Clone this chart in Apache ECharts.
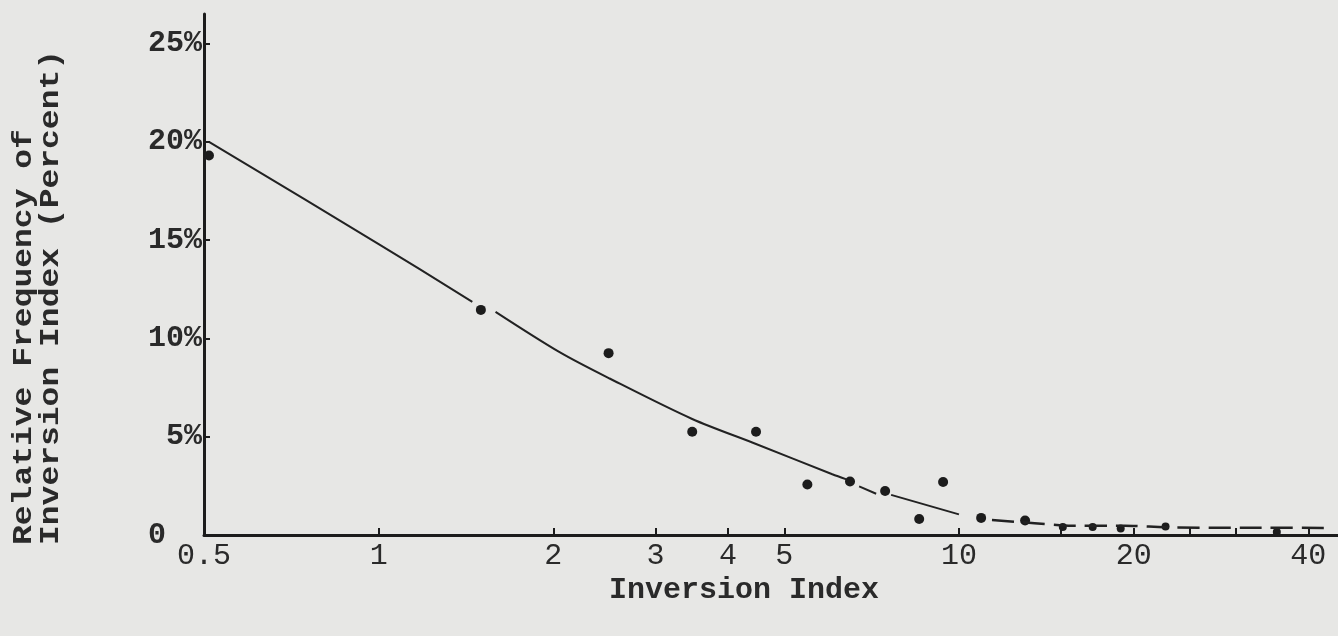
<!DOCTYPE html>
<html>
<head>
<meta charset="utf-8">
<script src="https://cdn.jsdelivr.net/npm/echarts@6/dist/echarts.min.js"></script>
<style>
  html, body { margin: 0; padding: 0; background: #e7e7e5; }
  #chart { width: 1338px; height: 636px; }
</style>
</head>
<body>
<div id="chart"></div>
<script>
// Observed relative frequency of each inversion index class (percent)
const indexValues = [0.51, 1.5, 2.49, 3.47, 4.47, 5.48, 6.49, 7.46, 8.54, 9.39, 10.92, 13.0, 15.1, 17.0, 19.0, 22.7, 35.3];
const frequency   = [19.3, 11.45, 9.25, 5.25, 5.25, 2.57, 2.72, 2.24, 0.81, 2.70, 0.87, 0.74, 0.41, 0.41, 0.33, 0.43, 0.15];

// Hand-fitted curve (null marks a break in the pen stroke)
const fitX = [0.51, 1.0, 1.45, 1.5, 1.59, 2.05, 2.5, 3.47, 4.47, 6.05, 6.4, 6.55, 6.73, 7.2, 7.4, 7.64, 10.0];
const fitY = [20.0, 14.8, 11.86, null, 11.35, 9.3, 7.96, 5.9, 4.63, 3.09, 2.83, null, 2.47, 2.1, null, 2.04, 1.05];

// Broken tail of the curve beyond index 10
const tailX = [11.4, 13.5, 15.6, 19.3, 23.4, 33.0, 43.0];
const tailY = [0.76, 0.60, 0.47, 0.47, 0.38, 0.37, 0.36];

// Axis ticks and labels
const xLabelValues = [0.5, 1, 2, 3, 4, 5, 10, 20, 40];
const xTickValues  = [1, 2, 3, 4, 5, 10, 15, 20, 25, 30, 35, 40];
const yTickValues  = [0, 5, 10, 15, 20, 25];

// Two-line vertical axis title
const yTitleLines = ['Relative Frequency of', 'Inversion Index (Percent)'];

const ink = '#1c1c1c';
const textInk = '#2a2a2a';
const font = '"Liberation Mono", "Courier New", monospace';

const zip = (xs, ys) => xs.map((x, i) => [x, ys[i] == null ? '-' : ys[i]]);

const chart = echarts.init(document.getElementById('chart'), null, { renderer: 'canvas' });

chart.setOption({
  backgroundColor: '#e7e7e5',
  animation: false,
  grid: { left: 204, right: 0, top: 14, bottom: 101 },
  xAxis: {
    type: 'log',
    logBase: 10,
    min: 0.5,
    max: 45,
    name: 'Inversion Index',
    nameLocation: 'middle',
    nameGap: 35,
    nameTextStyle: { fontFamily: font, fontSize: 30, fontWeight: 'bold', color: textInk, padding: [0, 54, 0, 0] },
    axisLine: { lineStyle: { color: ink, width: 3 } },
    axisTick: { inside: true, length: 7, lineStyle: { color: ink, width: 2 }, customValues: xTickValues },
    axisLabel: {
      customValues: xLabelValues,
      margin: 6,
      fontFamily: font, fontSize: 30, color: textInk,
      formatter: v => String(v)
    },
    splitLine: { show: false },
    minorTick: { show: false }
  },
  yAxis: {
    type: 'value',
    min: 0,
    max: 26.5,
    interval: 5,
    axisLine: { show: true, lineStyle: { color: ink, width: 3 } },
    axisTick: { show: true, inside: true, length: 6, lineStyle: { color: ink, width: 2 }, customValues: yTickValues },
    axisLabel: {
      customValues: yTickValues,
      margin: 2,
      fontFamily: font, fontSize: 30, fontWeight: 'bold', color: textInk,
      formatter: v => (v === 0 ? '0  ' : v + '%')
    },
    splitLine: { show: false }
  },
  // Vertical title: typewriter glyphs are a little shorter than this face, so squeeze them across the baseline
  graphic: yTitleLines.map((line, i) => ({
    type: 'text',
    rotation: Math.PI / 2,
    scaleY: 0.82,
    x: 24 + i * 27,
    y: 545,
    style: {
      text: line,
      fontFamily: font,
      fontSize: 33,
      fontWeight: 'bold',
      fill: textInk,
      textAlign: 'left',
      textVerticalAlign: 'middle'
    }
  })),
  series: [
    {
      name: 'Fitted curve',
      type: 'line',
      data: zip(fitX, fitY),
      smooth: 0.3,
      connectNulls: false,
      showSymbol: false,
      lineStyle: { color: '#222', width: 2 }
    },
    {
      name: 'Fitted tail',
      type: 'line',
      data: zip(tailX, tailY),
      smooth: 0.2,
      showSymbol: false,
      lineStyle: { color: '#222', width: 2.5, type: [22, 9] }
    },
    {
      name: 'Observed',
      type: 'scatter',
      data: zip(indexValues, frequency),
      symbol: 'circle',
      symbolSize: (val) => (val[0] > 14 ? 8 : 10),
      itemStyle: { color: ink, opacity: 1 }
    }
  ]
});
</script>
</body>
</html>
